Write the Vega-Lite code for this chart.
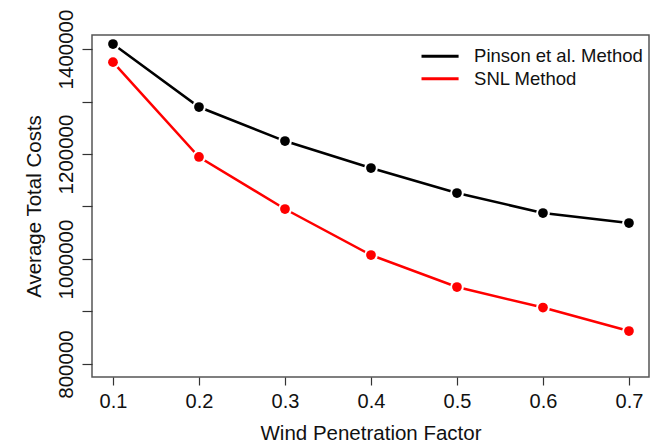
{
  "$schema": "https://vega.github.io/schema/vega-lite/v6.json",
  "width": 557,
  "height": 342,
  "autosize": {"type": "none"},
  "padding": {"left": 92, "top": 35, "right": 3, "bottom": 68},
  "background": "white",
  "config": {
    "font": "Liberation Sans",
    "view": {"stroke": "#555555", "strokeWidth": 1.5},
    "axis": {"grid": false, "domain": false, "tickColor": "#333333", "tickWidth": 1.2, "labelColor": "#111111", "titleColor": "#111111", "labelFont": "Liberation Sans", "titleFont": "Liberation Sans", "titleFontWeight": "normal"}
  },
  "data": {
    "values": [
      {"wpf": 0.1, "method": "Pinson et al. Method", "cost": 1409500},
      {"wpf": 0.2, "method": "Pinson et al. Method", "cost": 1289500},
      {"wpf": 0.3, "method": "Pinson et al. Method", "cost": 1224700},
      {"wpf": 0.4, "method": "Pinson et al. Method", "cost": 1173300},
      {"wpf": 0.5, "method": "Pinson et al. Method", "cost": 1125700},
      {"wpf": 0.6, "method": "Pinson et al. Method", "cost": 1087600},
      {"wpf": 0.7, "method": "Pinson et al. Method", "cost": 1068500},
      {"wpf": 0.1, "method": "SNL Method", "cost": 1375000},
      {"wpf": 0.2, "method": "SNL Method", "cost": 1194300},
      {"wpf": 0.3, "method": "SNL Method", "cost": 1095200},
      {"wpf": 0.4, "method": "SNL Method", "cost": 1007600},
      {"wpf": 0.5, "method": "SNL Method", "cost": 946600},
      {"wpf": 0.6, "method": "SNL Method", "cost": 907500},
      {"wpf": 0.7, "method": "SNL Method", "cost": 862800}
    ]
  },
  "encoding": {
    "x": {
      "field": "wpf", "type": "quantitative",
      "scale": {"domain": [0.0756, 0.7233], "nice": false, "zero": false},
      "axis": {
        "title": "Wind Penetration Factor",
        "values": [0.1, 0.2, 0.3, 0.4, 0.5, 0.6, 0.7],
        "format": ".1f",
        "tickSize": 8,
        "labelFontSize": 20,
        "labelPadding": 6,
        "titleFontSize": 20.5,
        "titlePadding": 12
      }
    },
    "y": {
      "field": "cost", "type": "quantitative",
      "scale": {"domain": [775200, 1426700], "nice": false, "zero": false},
      "axis": {
        "title": "Average Total Costs",
        "values": [800000, 900000, 1000000, 1100000, 1200000, 1300000, 1400000],
        "format": "d",
        "labelExpr": "datum.value % 200000 === 0 ? datum.label : ''",
        "tickSize": 10,
        "labelFontSize": 20.5,
        "labelAngle": 270,
        "labelAlign": "center",
        "labelBaseline": "bottom",
        "labelPadding": 6,
        "titleFontSize": 20.5,
        "titlePadding": 12
      }
    }
  },
  "layer": [
    {
      "mark": {"type": "line", "strokeWidth": 2.5},
      "encoding": {
        "color": {
          "field": "method", "type": "nominal",
          "scale": {"domain": ["Pinson et al. Method", "SNL Method"], "range": ["#000000", "#ff0000"]},
          "legend": {
            "title": null,
            "orient": "none",
            "legendX": 338.8,
            "legendY": 12,
            "symbolType": "M-5,0H5",
            "symbolStrokeWidth": 3,
            "symbolSize": 55,
            "labelFontSize": 18.5,
            "labelOffset": 24.8,
            "labelLimit": 0,
            "rowPadding": 3.5,
            "labelColor": "#111111",
            "padding": 0
          }
        }
      }
    },
    {
      "mark": {"type": "point", "filled": true, "size": 190, "opacity": 1, "color": "white"},
      "encoding": {}
    },
    {
      "mark": {"type": "point", "filled": true, "size": 95, "opacity": 1},
      "encoding": {
        "fill": {
          "field": "method", "type": "nominal",
          "scale": {"domain": ["Pinson et al. Method", "SNL Method"], "range": ["#000000", "#ff0000"]},
          "legend": null
        }
      }
    }
  ]
}
